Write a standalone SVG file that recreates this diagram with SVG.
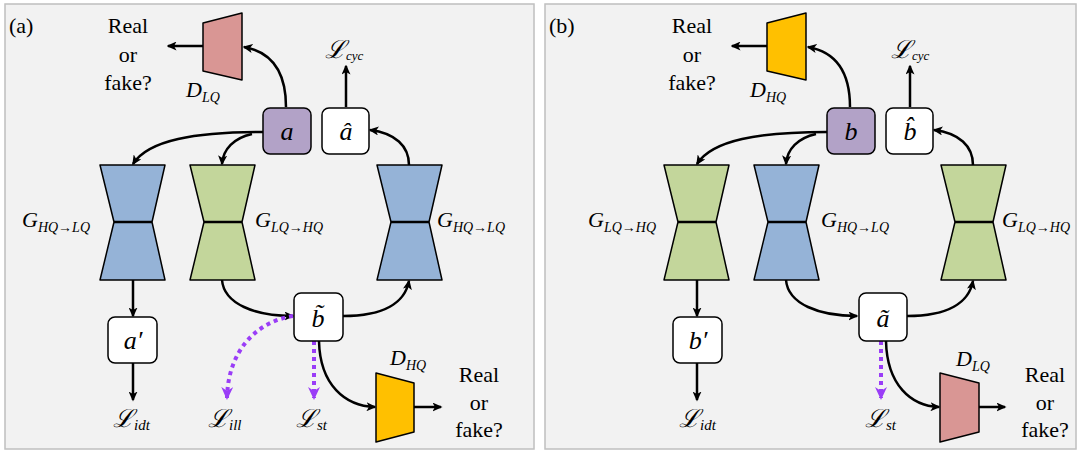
<svg xmlns="http://www.w3.org/2000/svg" width="1080" height="452" viewBox="0 0 1080 452">
  <style>
    .panel { fill: #f2f2f2; stroke: #bfbfbf; stroke-width: 1.5; }
    .box { fill: #ffffff; stroke: #000; stroke-width: 1.5; }
    .src { fill: #b2a2c7; }
    .blue { fill: #95b3d7; stroke: #000; stroke-width: 1.5; stroke-linejoin: round; }
    .green { fill: #c3d69b; stroke: #000; stroke-width: 1.5; stroke-linejoin: round; }
    .orange { fill: #ffc000; stroke: #000; stroke-width: 1.5; stroke-linejoin: round; }
    .pink { fill: #d99694; stroke: #000; stroke-width: 1.5; stroke-linejoin: round; }
    .waist { stroke: #000; stroke-width: 2.5; }
    .wire { fill: none; stroke: #000; stroke-width: 2.5; marker-end: url(#ah); }
    .dot { fill: none; stroke: #9a3df7; stroke-width: 4; stroke-dasharray: 4 4; marker-end: url(#ahp); }
    .rm { font-family: "Liberation Serif", "Times New Roman", serif; font-size: 22px; fill: #000; }
    .math { font-family: "Liberation Serif", "Times New Roman", serif; font-style: italic; font-size: 22px; fill: #000; }
    .var { font-family: "Liberation Serif", "Times New Roman", serif; font-style: italic; font-size: 26px; fill: #000; text-anchor: middle; }
    .sub { font-size: 14px; }
    .scr { font-family: "DejaVu Serif", serif; font-style: italic; font-size: 25px; fill: #000; }
    .ssub { font-family: "Liberation Serif", "Times New Roman", serif; font-style: italic; font-size: 15px; }
    .ssub-s { font-family: "Liberation Serif", "Times New Roman", serif; font-style: italic; font-size: 13px; }
    .mid { text-anchor: middle; }
  </style>
  <defs>
    <marker id="ah" viewBox="0 0 10 9" refX="8.5" refY="4.5" markerWidth="10" markerHeight="9" markerUnits="userSpaceOnUse" orient="auto">
      <path d="M0,0 L10,4.5 L0,9 L2.5,4.5 z" fill="#000"/>
    </marker>
    <marker id="ahp" viewBox="0 0 13 12" refX="11" refY="6" markerWidth="13" markerHeight="12" markerUnits="userSpaceOnUse" orient="auto">
      <path d="M0,0 L13,6 L0,12 L4,6 z" fill="#9a3df7"/>
    </marker>
    <!-- generator: two trapezoids meeting at a narrow waist -->
    <g id="hourglass">
      <path d="M0,0 H65 L52,57 H14 Z M14,57 H52 L65,115 H0 Z"/>
      <line class="waist" x1="14" y1="57" x2="52" y2="57"/>
    </g>
  </defs>

  <!-- panel frames -->
  <rect class="panel" x="5" y="4" width="529" height="445"/>
  <rect class="panel" x="545" y="4" width="531" height="445"/>
  <text class="rm" x="9" y="33">(a)</text>
  <text class="rm" x="549" y="33">(b)</text>

  <!-- ===== panel (a): LQ -> HQ cycle ===== -->
  <g id="a-connectors">
    <path class="wire" d="M286,107 C286,72 272,52 244,47"/>
    <path class="wire" d="M203,46 H168"/>
    <path class="wire" d="M346,107 V66"/>
    <path class="wire" d="M263,132 C195,132 148,140 133,164"/>
    <path class="wire" d="M252,134 C234,138 223,149 222,164"/>
    <path class="wire" d="M409,165 C409,146 395,133 370,130"/>
    <path class="wire" d="M222,280 C224,304 255,316 293,316"/>
    <path class="wire" d="M343,316 C385,316 405,302 409,281"/>
    <path class="wire" d="M133,280 V316"/>
    <path class="wire" d="M133,363 V400"/>
    <path class="wire" d="M319,341 C320,385 345,406 375,407"/>
    <path class="wire" d="M414,407 H441"/>
    <path class="dot" d="M293,316 C255,322 228,352 227,398"/>
    <path class="dot" d="M314,341 V398"/>
  </g>

  <g id="a-disc-top">
    <polygon class="pink" points="203,23 242,13 242,80 203,71"/>
    <text class="math" x="186" y="97">D<tspan class="sub" dy="5">LQ</tspan></text>
    <text class="rm mid" x="128" y="33">Real</text>
    <text class="rm mid" x="128" y="62">or</text>
    <text class="rm mid" x="128" y="90">fake?</text>
  </g>
  <g id="a-input">
    <rect class="box src" x="263" y="108" width="48" height="46" rx="7"/>
    <text class="var" x="287" y="140">a</text>
  </g>
  <g id="a-recon">
    <rect class="box" x="322" y="108" width="47" height="46" rx="7"/>
    <text class="var" x="346" y="140">â</text>
  </g>
  <g id="a-cyc-loss">
    <text class="scr" x="325" y="58">ℒ<tspan class="ssub-s" dy="2">cyc</tspan></text>
  </g>
  <g id="a-gen-idt">
    <use href="#hourglass" class="blue" x="100" y="165"/>
    <text class="math" x="22" y="227">G<tspan class="sub" dy="5">HQ→LQ</tspan></text>
  </g>
  <g id="a-gen-fwd">
    <use href="#hourglass" class="green" x="190" y="165"/>
    <text class="math" x="255" y="227">G<tspan class="sub" dy="5">LQ→HQ</tspan></text>
  </g>
  <g id="a-gen-back">
    <use href="#hourglass" class="blue" x="377" y="165"/>
    <text class="math" x="437" y="227">G<tspan class="sub" dy="5">HQ→LQ</tspan></text>
  </g>
  <g id="a-idt">
    <rect class="box" x="108" y="317" width="49" height="46" rx="7"/>
    <text class="var" x="133" y="349">a′</text>
  </g>
  <g id="a-translated">
    <rect class="box" x="294" y="293" width="49" height="48" rx="7"/>
    <text class="var" x="318" y="327">b̃</text>
  </g>
  <g id="a-losses">
    <text class="scr" x="113" y="427">ℒ<tspan class="ssub" dy="3">idt</tspan></text>
    <text class="scr" x="208" y="427">ℒ<tspan class="ssub" dy="3">ill</tspan></text>
    <text class="scr" x="296" y="427">ℒ<tspan class="ssub" dy="3">st</tspan></text>
  </g>
  <g id="a-disc-bottom">
    <polygon class="orange" points="376,373 414,383 414,432 376,442"/>
    <text class="math" x="390" y="365">D<tspan class="sub" dy="5">HQ</tspan></text>
    <text class="rm mid" x="479" y="382">Real</text>
    <text class="rm mid" x="479" y="410">or</text>
    <text class="rm mid" x="479" y="437">fake?</text>
  </g>

  <!-- ===== panel (b): HQ -> LQ cycle, same layout shifted right ===== -->
  <g transform="translate(564,0)">
    <g id="b-connectors">
      <path class="wire" d="M286,107 C286,72 272,52 244,47"/>
      <path class="wire" d="M203,46 H168"/>
      <path class="wire" d="M346,107 V66"/>
      <path class="wire" d="M263,132 C195,132 148,140 133,164"/>
      <path class="wire" d="M252,134 C234,138 223,149 222,164"/>
      <path class="wire" d="M409,165 C409,146 395,133 370,130"/>
      <path class="wire" d="M222,280 C224,304 255,316 293,316"/>
      <path class="wire" d="M343,316 C385,316 405,302 409,281"/>
      <path class="wire" d="M133,280 V316"/>
      <path class="wire" d="M133,363 V400"/>
      <path class="wire" d="M322,341 C323,385 347,406 375,407"/>
      <path class="wire" d="M414,407 H441"/>
      <path class="dot" d="M317,341 V398"/>
    </g>

    <g id="b-disc-top">
      <polygon class="orange" points="203,23 242,13 242,80 203,71"/>
      <text class="math" x="186" y="97">D<tspan class="sub" dy="5">HQ</tspan></text>
      <text class="rm mid" x="128" y="33">Real</text>
      <text class="rm mid" x="128" y="62">or</text>
      <text class="rm mid" x="128" y="90">fake?</text>
    </g>
    <g id="b-input">
      <rect class="box src" x="263" y="108" width="48" height="46" rx="7"/>
      <text class="var" x="287" y="140">b</text>
    </g>
    <g id="b-recon">
      <rect class="box" x="322" y="108" width="47" height="46" rx="7"/>
      <text class="var" x="346" y="140">b̂</text>
    </g>
    <g id="b-cyc-loss">
      <text class="scr" x="327" y="58">ℒ<tspan class="ssub-s" dy="2">cyc</tspan></text>
    </g>
    <g id="b-gen-idt">
      <use href="#hourglass" class="green" x="100" y="165"/>
      <text class="math" x="24" y="227">G<tspan class="sub" dy="5">LQ→HQ</tspan></text>
    </g>
    <g id="b-gen-fwd">
      <use href="#hourglass" class="blue" x="190" y="165"/>
      <text class="math" x="257" y="227">G<tspan class="sub" dy="5">HQ→LQ</tspan></text>
    </g>
    <g id="b-gen-back">
      <use href="#hourglass" class="green" x="377" y="165"/>
      <text class="math" x="438" y="227">G<tspan class="sub" dy="5">LQ→HQ</tspan></text>
    </g>
    <g id="b-idt">
      <rect class="box" x="109" y="317" width="49" height="46" rx="7"/>
      <text class="var" x="134" y="349">b′</text>
    </g>
    <g id="b-translated">
      <rect class="box" x="295" y="293" width="48" height="48" rx="7"/>
      <text class="var" x="319" y="327">ã</text>
    </g>
    <g id="b-losses">
      <text class="scr" x="115" y="427">ℒ<tspan class="ssub" dy="3">idt</tspan></text>
      <text class="scr" x="301" y="427">ℒ<tspan class="ssub" dy="3">st</tspan></text>
    </g>
    <g id="b-disc-bottom">
      <polygon class="pink" points="376,373 415,383 415,432 376,442"/>
      <text class="math" x="392" y="366">D<tspan class="sub" dy="5">LQ</tspan></text>
      <text class="rm mid" x="481" y="382">Real</text>
      <text class="rm mid" x="481" y="410">or</text>
      <text class="rm mid" x="481" y="437">fake?</text>
    </g>
  </g>
</svg>
